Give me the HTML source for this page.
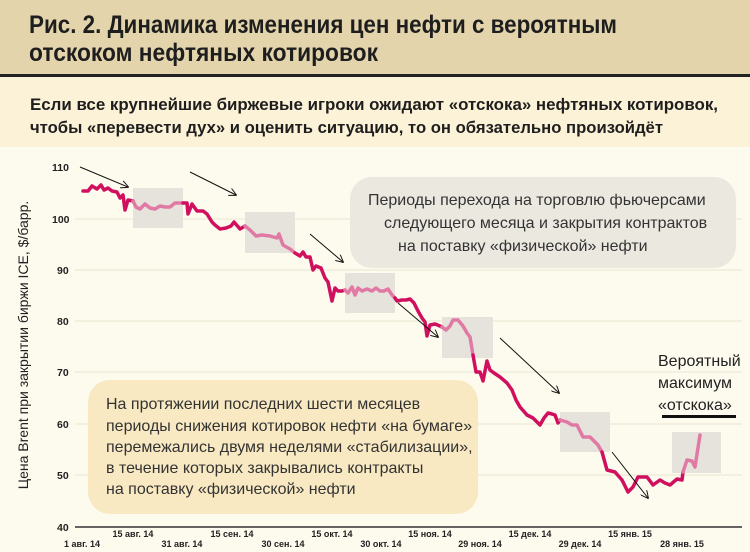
<!DOCTYPE html>
<html><head><meta charset="utf-8"><style>
html,body{margin:0;padding:0;background:#fdfaee}
svg{display:block;font-family:"Liberation Sans",sans-serif}
</style></head><body>
<svg width="750" height="552" viewBox="0 0 750 552" xmlns="http://www.w3.org/2000/svg">
<rect x="0" y="0" width="750" height="552" fill="#fdfaee"/>
<rect x="0" y="0" width="750" height="74" fill="#e3d4ac"/>
<rect x="0" y="74" width="750" height="3" fill="#222"/>
<rect x="0" y="77" width="750" height="70" fill="#fcf2d8"/>
<g font-weight="bold" fill="#1e1e1e">
<text x="29" y="33" font-size="25" textLength="588" lengthAdjust="spacingAndGlyphs">Рис. 2. Динамика изменения цен нефти с вероятным</text>
<text x="29" y="61" font-size="25" textLength="349" lengthAdjust="spacingAndGlyphs">отскоком нефтяных котировок</text>
<text x="30" y="110" font-size="17" textLength="688" lengthAdjust="spacingAndGlyphs">Если все крупнейшие биржевые игроки ожидают «отскока» нефтяных котировок,</text>
<text x="30" y="133" font-size="17" textLength="633" lengthAdjust="spacingAndGlyphs">чтобы «перевести дух» и оценить ситуацию, то он обязательно произойдёт</text>
</g>
<g stroke="#ece6d2" stroke-width="1">
<line x1="75" y1="219" x2="742" y2="219"/><line x1="75" y1="270" x2="742" y2="270"/>
<line x1="75" y1="321" x2="742" y2="321"/><line x1="75" y1="372" x2="742" y2="372"/>
<line x1="75" y1="424" x2="742" y2="424"/><line x1="75" y1="475" x2="742" y2="475"/>
</g>
<line x1="75" y1="527" x2="742" y2="527" stroke="#333" stroke-width="1.5"/>
<g font-size="10.5" font-weight="bold" fill="#222">
<text x="52" y="171">110</text><text x="52" y="223">100</text><text x="57" y="274">90</text>
<text x="57" y="325">80</text><text x="57" y="376">70</text><text x="57" y="428">60</text>
<text x="57" y="479">50</text><text x="57" y="531">40</text>
</g>
<text transform="translate(28,345) rotate(-90)" font-size="14" fill="#222" text-anchor="middle">Цена Brent при закрытии биржи ICE, $/барр.</text>
<rect x="350" y="177" width="386" height="91" rx="22" fill="#ebe8e0"/>
<g font-size="16" fill="#333">
<text x="368" y="205">Периоды перехода на торговлю фьючерсами</text>
<text x="384" y="228">следующего месяца и закрытия контрактов</text>
<text x="398" y="251">на поставку «физической» нефти</text>
</g>
<rect x="88" y="380" width="390" height="134" rx="22" fill="#f8e9c3"/>
<g font-size="16" fill="#333">
<text x="106" y="409">На протяжении последних шести месяцев</text>
<text x="106" y="431">периоды снижения котировок нефти «на бумаге»</text>
<text x="106" y="452">перемежались двумя неделями «стабилизации»,</text>
<text x="106" y="473">в течение которых закрывались контракты</text>
<text x="106" y="494">на поставку «физической» нефти</text>
</g>
<g font-size="16" fill="#222">
<text x="658" y="366">Вероятный</text>
<text x="658" y="388">максимум</text>
<text x="658" y="410">«отскока»</text>
</g>
<rect x="662" y="415" width="74" height="3" fill="#111"/>
<g fill="#e6e3dd">
<rect x="133" y="188" width="50" height="40"/><rect x="245" y="212" width="50" height="41"/>
<rect x="345" y="273" width="50" height="40"/><rect x="442" y="317" width="51" height="41"/>
<rect x="560" y="412" width="50" height="40"/><rect x="672" y="432" width="49" height="41"/>
</g>
<g fill="none" stroke-width="3.5" stroke-linejoin="round" stroke-linecap="round">
<polyline stroke="#d0105e" points="83,191 88,191 92,186 97,189 101,185 104,190 108,188 112,191 117,192 120,198 123,195 125,210 128,200 133,201"/>
<polyline stroke="#e07aa4" points="133,201 136,207 140,209 145,204 150,208 155,209 160,206 165,207 170,207 175,203 183,203"/>
<polyline stroke="#d0105e" points="183,203 187,203 188,214 192,204 197,211 203,211 207,214 212,222 215,225 220,229 226,228 231,226 234,222 240,229 245,226"/>
<polyline stroke="#e07aa4" points="245,226 250,230 256,236 262,235 270,236 277,238 279,234 283,245 290,249 295,253"/>
<polyline stroke="#d0105e" points="295,253 300,256 303,252 306,257 310,257 313,270 316,266 321,268 325,278 328,282 332,301 335,288 338,291 342,291 345,290"/>
<polyline stroke="#e07aa4" points="345,290 348,293 352,287 355,295 358,288 362,291 367,289 372,291 376,288 380,291 384,291 388,289 392,295 395,298"/>
<polyline stroke="#d0105e" points="395,298 397,301 402,300 406,300 410,299 414,303 418,311 422,318 425,322 427,336 430,325 435,324 440,326 442,327"/>
<polyline stroke="#e07aa4" points="442,327 446,330 450,326 453,320 458,320 463,326 467,333 470,337 473,355"/>
<polyline stroke="#d0105e" points="473,355 476,372 480,372 483,381 487,361 490,370 494,373 500,377 507,383 512,390 516,400 520,407 527,415 533,418 540,425 544,418 548,413 552,414 555,415 558,423 560,420"/>
<polyline stroke="#e07aa4" points="560,420 567,422 572,425 577,425 583,437 590,437 594,441 598,445 602,452"/>
<polyline stroke="#d0105e" points="602,452 607,470 615,472 622,480 628,492 633,487 638,477 647,477 653,485 660,480 665,483 670,485 677,479 682,480 683,472"/>
<polyline stroke="#e07aa4" points="683,472 687,460 692,461 695,467 700,435"/>
</g>
<defs><marker id="a" viewBox="0 0 10 10" refX="9" refY="5" markerWidth="8" markerHeight="8" orient="auto"><path d="M0,0 L10,5 L0,10" fill="none" stroke="#111" stroke-width="1.2"/></marker></defs>
<g stroke="#111" stroke-width="1" marker-end="url(#a)">
<line x1="80" y1="167" x2="128" y2="187"/><line x1="190" y1="172" x2="236" y2="195"/>
<line x1="310" y1="234" x2="343" y2="262"/><line x1="398" y1="303" x2="438" y2="337"/>
<line x1="500" y1="338" x2="559" y2="393"/><line x1="612" y1="452" x2="648" y2="498"/>
</g>
<g font-size="9" font-weight="bold" fill="#222" text-anchor="middle">
<text x="133" y="537">15 авг. 14</text><text x="232" y="537">15 сен. 14</text><text x="332" y="537">15 окт. 14</text>
<text x="430" y="537">15 ноя. 14</text><text x="530" y="537">15 дек. 14</text><text x="630" y="537">15 янв. 15</text>
<text x="82" y="547">1 авг. 14</text><text x="182" y="547">31 авг. 14</text><text x="283" y="547">30 сен. 14</text>
<text x="381" y="547">30 окт. 14</text><text x="480" y="547">29 ноя. 14</text><text x="580" y="547">29 дек. 14</text>
<text x="682" y="547">28 янв. 15</text>
</g>
</svg>
</body></html>
